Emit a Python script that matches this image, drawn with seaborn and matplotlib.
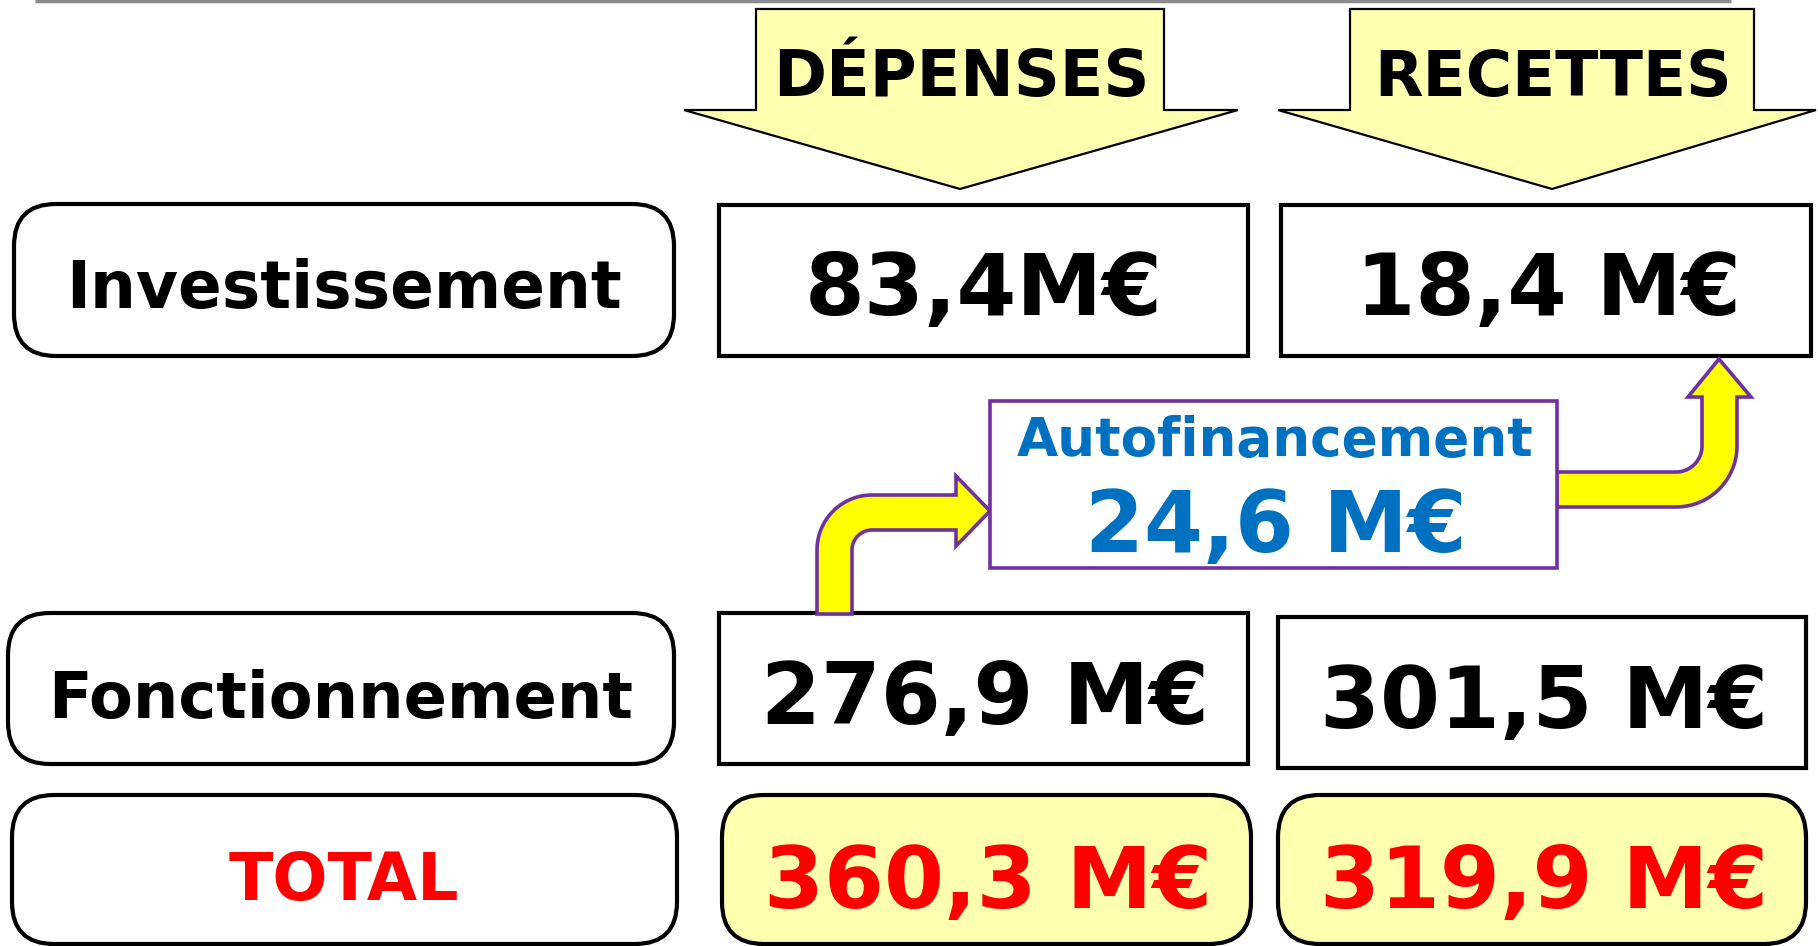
import numpy as np
import matplotlib
matplotlib.use("Agg")
import matplotlib.pyplot as plt
from matplotlib.patches import FancyBboxPatch, Rectangle, Polygon
import seaborn as sns

# ---- data ----
headers = ["DÉPENSES", "RECETTES"]
row_labels = ["Investissement", "Fonctionnement", "TOTAL"]
depenses = ["83,4M€", "276,9 M€", "360,3 M€"]
recettes = ["18,4 M€", "301,5 M€", "319,9 M€"]
autofin_label = "Autofinancement"
autofin_value = "24,6 M€"

sns.set_theme(style="white")
plt.rcParams['font.family'] = ['DejaVu Sans']

W, H = 1818, 946
fig = plt.figure(figsize=(W / 100, H / 100), dpi=100)
ax = fig.add_axes([0, 0, 1, 1])
ax.set_xlim(0, W)
ax.set_ylim(H, 0)
ax.axis("off")

BLACK_LW = 3.0
PURPLE = "#7030A0"
YELLOW = "#FFFF00"
PALE = "#FFFFB0"
BLUE = "#0070C0"
RED = "#FF0000"

# top gray rule
ax.plot([35, 1731], [1.5, 1.5], color="#8c8c8c", lw=2.5, solid_capstyle="butt")

# header arrows
def header_arrow(sl, sr, top, sh, wl, wr, tipx, tipy):
    pts = [(sl, top), (sr, top), (sr, sh), (wr, sh), (tipx, tipy), (wl, sh), (sl, sh)]
    ax.add_patch(Polygon(pts, closed=True, facecolor=PALE, edgecolor="black", lw=1.6, joinstyle="miter"))

header_arrow(756, 1164, 9, 110, 684, 1238, 960, 189)
header_arrow(1350, 1754, 9, 110, 1278, 1816, 1552, 189)
ax.text(961, 96, headers[0], fontsize=46, fontweight="bold", ha="center", va="baseline", color="black")
ax.text(1553, 96, headers[1], fontsize=45.5, fontweight="bold", ha="center", va="baseline", color="black")

def rbox(x0, y0, x1, y1, fc="white", r=42):
    ax.add_patch(FancyBboxPatch((x0, y0), x1 - x0, y1 - y0,
                                boxstyle=f"round,pad=0,rounding_size={r}",
                                facecolor=fc, edgecolor="black", lw=BLACK_LW))

def sbox(x0, y0, x1, y1, fc="white", ec="black", lw=BLACK_LW):
    ax.add_patch(Rectangle((x0, y0), x1 - x0, y1 - y0, facecolor=fc, edgecolor=ec, lw=lw, joinstyle="miter"))

# row label boxes
rbox(14, 204, 674, 356)
rbox(8, 613, 674, 764)
rbox(12, 795, 677, 944)

# value boxes
sbox(719, 205, 1248, 356)
sbox(1281, 205, 1811, 356)
sbox(719, 613, 1248, 764)
sbox(1278, 617, 1806, 768)
rbox(722, 795, 1251, 944, fc=PALE)
rbox(1278, 795, 1806, 944, fc=PALE)

# bent arrows
def arc(cx, cy, r, t0, t1, n=30):
    t = np.linspace(t0, t1, n)
    return list(zip(cx + r * np.cos(t), cy - r * np.sin(t)))

left_pts = [(817, 614), (817, 550)]
left_pts += arc(872, 550, 55, np.pi, np.pi / 2)
left_pts += [(956, 495), (956, 476), (990, 511), (956, 546), (956, 530)]
left_pts += arc(872, 550, 20, np.pi / 2, np.pi)
left_pts += [(852, 614)]
ax.add_patch(Polygon(left_pts, closed=True, facecolor=YELLOW, edgecolor=PURPLE, lw=2.6, joinstyle="miter"))

right_pts = [(1557, 472), (1676, 472)]
right_pts += arc(1676, 446, 26, -np.pi / 2, 0)
right_pts += [(1702, 397), (1688, 397), (1719, 359), (1751, 397), (1737, 397)]
right_pts += arc(1676, 446, 61, 0, -np.pi / 2)
right_pts += [(1557, 507)]
ax.add_patch(Polygon(right_pts, closed=True, facecolor=YELLOW, edgecolor=PURPLE, lw=2.6, joinstyle="miter"))

# autofinancement box
sbox(990, 401, 1557, 568, fc="white", ec=PURPLE, lw=2.6)
ax.text(1275, 456, autofin_label, fontsize=38.3, fontweight="bold", ha="center", va="baseline", color=BLUE)
ax.text(1276, 552, autofin_value, fontsize=61, fontweight="bold", ha="center", va="baseline", color=BLUE)

# texts
label_pos = [(344, 308, "black", 46.5), (341, 718, "black", 46), (344, 900, RED, 46.7)]
for lab, (x, y, c, fs) in zip(row_labels, label_pos):
    ax.text(x, y, lab, fontsize=fs, fontweight="bold", ha="center", va="baseline", color=c)

dep_pos = [(984, 315, "black", 62), (985, 724, "black", 62), (988, 908, RED, 62)]
rec_pos = [(1548, 315, "black", 61.5), (1544, 728, "black", 62), (1544, 908, RED, 62)]
for v, (x, y, c, fs) in zip(depenses, dep_pos):
    ax.text(x, y, v, fontsize=fs, fontweight="bold", ha="center", va="baseline", color=c)
for v, (x, y, c, fs) in zip(recettes, rec_pos):
    ax.text(x, y, v, fontsize=fs, fontweight="bold", ha="center", va="baseline", color=c)

fig.savefig("out.png", dpi=100, facecolor="white")
